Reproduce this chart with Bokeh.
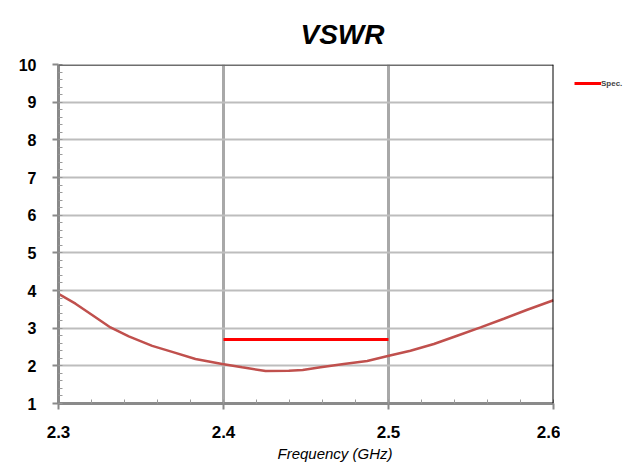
from bokeh.plotting import figure
from bokeh.layouts import row
from bokeh.models import (Range1d, FixedTicker, Span, Legend, LegendItem, Title)
from bokeh.embed import file_html
from bokeh.resources import INLINE

# Data
freq = [2.300, 2.3103, 2.3204, 2.3315, 2.3426, 2.3568, 2.3689, 2.383,
        2.3992, 2.4113, 2.4255, 2.4396, 2.4480, 2.4588, 2.4729, 2.4871,
        2.5002, 2.5133, 2.5275, 2.5416, 2.5558, 2.5699, 2.5841, 2.600]
vswr = [3.91, 3.65, 3.35, 3.02, 2.78, 2.53, 2.37, 2.18,
        2.05, 1.96, 1.86, 1.87, 1.89, 1.96, 2.05, 2.13,
        2.27, 2.40, 2.58, 2.80, 3.02, 3.25, 3.49, 3.74]
spec_freq = [2.4, 2.5]
spec_vswr = [2.7, 2.7]
x_ticks = [2.3, 2.4, 2.5, 2.6]
y_ticks = [1, 2, 3, 4, 5, 6, 7, 8, 9, 10]
title_text = "VSWR"
xlabel_text = "Frequency (GHz)"
legend_text = "Spec."

FONT = "Liberation Sans"

p = figure(width=560, height=473, output_backend="svg", toolbar_location=None,
           x_range=Range1d(2.3, 2.6), y_range=Range1d(1, 10),
           min_border_left=58, min_border_top=64, min_border_right=7,
           min_border_bottom=70)
p.outline_line_color = None
p.background_fill_color = "white"
p.border_fill_color = "white"

x_minor = [round(2.3 + 0.02 * i, 2) for i in range(16)]
y_minor = [round(1 + 0.2 * i, 1) for i in range(46)]
p.xaxis.ticker = FixedTicker(ticks=x_ticks, minor_ticks=x_minor)
p.yaxis.ticker = FixedTicker(ticks=y_ticks, minor_ticks=y_minor)
p.xaxis.major_label_overrides = {t: f"{t:.1f}" for t in x_ticks}

for ax in (p.xaxis[0], p.yaxis[0]):
    ax.axis_line_color = "#8a8a8a"
    ax.axis_line_width = 3
    ax.major_tick_line_color = "#8a8a8a"
    ax.major_tick_line_width = 2
    ax.major_tick_out = 6
    ax.major_tick_in = 0
    ax.minor_tick_line_color = "#9a9a9a"
    ax.minor_tick_line_width = 1
    ax.minor_tick_in = 4
    ax.minor_tick_out = 0
    ax.major_label_text_font = FONT
    ax.major_label_text_font_style = "bold"
    ax.major_label_text_color = "black"
    ax.major_label_standoff = 16
p.yaxis.major_label_text_font_size = "16px"
p.xaxis.major_label_text_font_size = "17px"

p.xgrid.grid_line_color = "#a8a8a8"
p.xgrid.grid_line_width = 3
p.ygrid.grid_line_color = "#bdbdbd"
p.ygrid.grid_line_width = 2

# frame borders: top dark gray, right black
p.add_layout(Span(location=10, dimension="width", line_color="#6e6e6e", line_width=3))
p.add_layout(Span(location=2.6, dimension="height", line_color="black", line_width=2))

p.line(freq, vswr, line_color="#C0504D", line_width=2.5)
p.line(spec_freq, spec_vswr, line_color="#FF0000", line_width=3)

p.add_layout(Title(text=title_text, align="left", offset=242, standoff=30,
                   text_font=FONT, text_font_style="bold italic",
                   text_font_size="28px", text_color="black"), "above")
p.add_layout(Title(text=xlabel_text, align="left", offset=219, standoff=4,
                   text_font=FONT, text_font_style="italic",
                   text_font_size="15px", text_color="black"), "below")

# legend panel to the right of the chart (same vertical borders as the chart)
pl = figure(width=75, height=473, output_backend="svg", toolbar_location=None,
            x_axis_type=None, y_axis_type=None,
            min_border_left=0, min_border_top=64, min_border_right=0,
            min_border_bottom=70,
            x_range=Range1d(0, 1), y_range=Range1d(0, 1))
pl.outline_line_color = None
pl.grid.visible = False
# key renderer uses the spec series; its data lies outside this panel's ranges
spec_key = pl.line(spec_freq, spec_vswr, line_color="#FF0000", line_width=3)
legend = Legend(items=[LegendItem(label=legend_text, renderers=[spec_key])],
                location="top_left", margin=14, padding=0,
                glyph_width=27, glyph_height=10, label_height=10,
                label_standoff=0, label_text_font=FONT,
                label_text_font_style="bold", label_text_font_size="8px",
                border_line_color=None, background_fill_alpha=0)
pl.add_layout(legend)

layout = row(p, pl, spacing=0)
open("out.html", "w").write(file_html(layout, INLINE))
